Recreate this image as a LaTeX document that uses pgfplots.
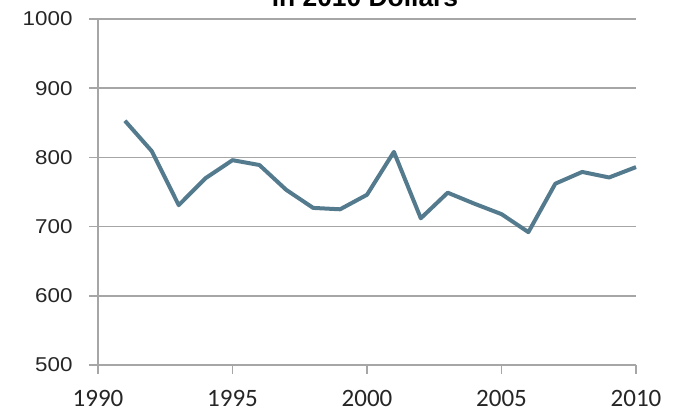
\documentclass[border=0pt]{standalone}
\usepackage{pgfplots}
\pgfplotsset{compat=1.18}
\usepackage{fontspec}
\setmainfont{Carlito}
\newfontfamily\titlefont{Liberation Sans}
\definecolor{linec}{RGB}{84,122,142}
\definecolor{gridc}{RGB}{166,166,166}
\begin{document}
\begin{tikzpicture}[x=1pt,y=1pt]
\useasboundingbox (0,0) rectangle (340.5,206);
\begin{axis}[
  at={(49pt,23.5pt)}, anchor=south west,
  scale only axis, width=269pt, height=173pt,
  xmin=1990, xmax=2010, ymin=500, ymax=1000,
  xtick={1990,1995,2000,2005,2010},
  ytick={500,600,700,800,900,1000},
  axis x line*=bottom, axis y line*=left,
  ymajorgrids,
  grid style={gridc, line width=0.75pt},
  axis line style={gridc, line width=0.75pt, -},
  tick style={gridc, line width=0.75pt},
  tick align=outside, major tick length=4.5pt,
  /pgf/number format/1000 sep={},
  /pgf/number format/assume math mode=true,
  xticklabel style={font=\fontsize{12.5}{14}\selectfont, text=black!85, inner sep=0pt, anchor=north, yshift=-8pt},
  yticklabel style={font=\titlefont\fontsize{10}{12}\selectfont, text=black!85, inner sep=0pt, anchor=east, xshift=-8pt, xscale=1.12},
  clip=false,
]
\addplot[linec, line width=2pt, line join=round] coordinates {
(1991,853) (1992,809) (1993,731) (1994,770) (1995,796) (1996,789)
(1997,753) (1998,727) (1999,725) (2000,746) (2001,808) (2002,712)
(2003,749) (2004,733) (2005,718) (2006,692) (2007,762) (2008,779)
(2009,771) (2010,786)
};
\end{axis}
\node[anchor=base, inner sep=0pt, font=\titlefont\bfseries\fontsize{13.2}{15}\selectfont] at (182.5,202.5) {in 2010 Dollars};
\end{tikzpicture}
\end{document}
